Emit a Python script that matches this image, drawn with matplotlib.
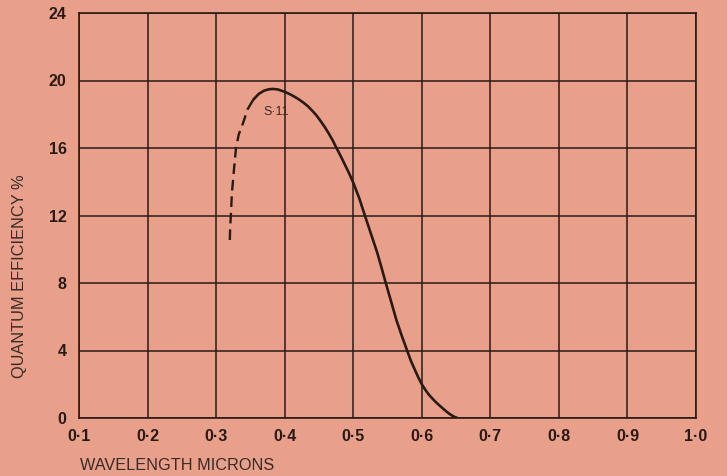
import matplotlib
matplotlib.use('Agg')
import matplotlib.pyplot as plt

# S-11 spectral response
dash_x = [0.320, 0.3205, 0.3215, 0.323, 0.326, 0.329, 0.333, 0.3395, 0.346, 0.354]
dash_y = [10.55, 11.3, 12.0, 13.3, 14.7, 16.0, 16.8, 17.5, 18.3, 18.85]

solid_x = [0.354, 0.362, 0.370, 0.377, 0.383, 0.390, 0.400, 0.407, 0.413, 0.420, 0.427,
           0.434, 0.440, 0.446, 0.451, 0.458, 0.464, 0.470, 0.4756, 0.482, 0.488, 0.494,
           0.500, 0.509, 0.517, 0.526, 0.535, 0.541, 0.5475, 0.556, 0.563, 0.571, 0.5786,
           0.584, 0.590, 0.595, 0.600, 0.605, 0.610, 0.616, 0.621, 0.627, 0.632, 0.637,
           0.642, 0.647, 0.652]
solid_y = [18.85, 19.2, 19.4, 19.48, 19.5, 19.47, 19.33, 19.2, 19.07, 18.9, 18.7,
           18.47, 18.22, 17.95, 17.68, 17.27, 16.88, 16.46, 16.0, 15.5, 15.0, 14.5,
           13.95, 13.0, 12.0, 10.9, 9.8, 8.95, 8.0, 6.8, 5.8, 4.85, 4.0,
           3.4, 2.85, 2.4, 2.0, 1.68, 1.4, 1.13, 0.92, 0.7, 0.52, 0.35,
           0.2, 0.08, 0.0]

xticks = [0.1, 0.2, 0.3, 0.4, 0.5, 0.6, 0.7, 0.8, 0.9, 1.0]
xlabels = ['0\u00b71', '0\u00b72', '0\u00b73', '0\u00b74', '0\u00b75',
           '0\u00b76', '0\u00b77', '0\u00b78', '0\u00b79', '1\u00b70']
yticks = [0, 4, 8, 12, 16, 20, 24]

bg = '#E9A08B'
ink = '#2a1a16'

plt.rcParams['font.family'] = ['Liberation Sans', 'DejaVu Sans']

fig = plt.figure(figsize=(7.27, 4.76), dpi=100, facecolor=bg)
ax = fig.add_axes([79/727, 1-418/476, (696-79)/727, (418-13)/476])
ax.set_facecolor(bg)

ax.plot(dash_x, dash_y, color=ink, lw=1.7, linestyle=(0, (4.5, 2.5)))
ax.plot(solid_x, solid_y, color=ink, lw=1.9, solid_capstyle='round', solid_joinstyle='round')
ax.text(0.388, 18.15, 'S\u00b711', fontsize=9, color='#3a2a26', ha='center', va='center')

ax.set_xlim(0.1, 1.0)
ax.set_ylim(0, 24)
ax.set_xticks(xticks)
ax.set_xticklabels(xlabels, fontsize=11.5, fontweight='bold', color=ink)
ax.set_yticks(yticks)
ax.set_yticklabels([str(v) for v in yticks], fontsize=11.5, fontweight='bold', color=ink)
ax.tick_params(length=0)
ax.tick_params(axis='x', pad=8)
ax.tick_params(axis='y', pad=9)
ax.grid(True, color=ink, lw=1.1)
for s in ax.spines.values():
    s.set_color(ink)
    s.set_linewidth(1.2)

fig.text(80/727, 1-466/476, 'WAVELENGTH MICRONS', fontsize=11.7, color='#3a2a26',
         ha='left', va='center')
fig.text(20/727, 1-276/476, 'QUANTUM EFFICIENCY %', fontsize=11.8, color='#3a2a26',
         rotation=90, ha='center', va='center')

fig.savefig('out.png', dpi=100, facecolor=bg)
